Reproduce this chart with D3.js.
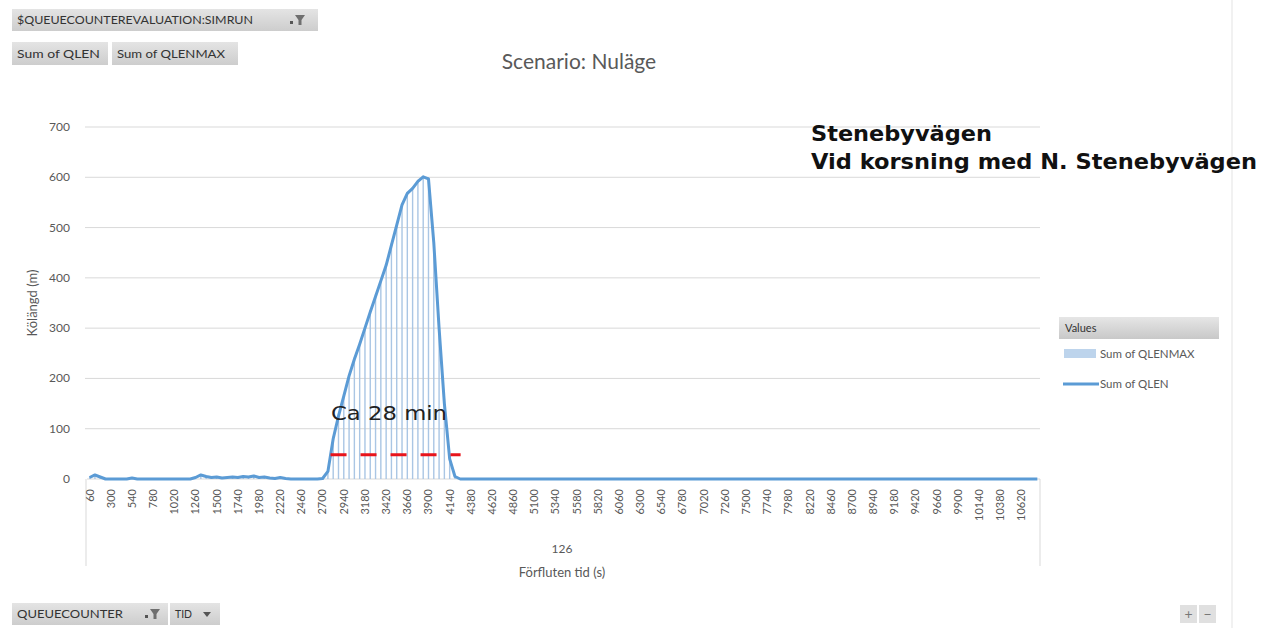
<!DOCTYPE html>
<html>
<head>
<meta charset="utf-8">
<script src="https://cdn.jsdelivr.net/npm/d3@7"></script>
<style>
  html, body { margin: 0; padding: 0; background: #ffffff; }
  svg { display: block; }
</style>
</head>
<body>
<svg id="chart" width="1271" height="628"></svg>
<script>
// Queue length per 60 s interval (QLEN) and per-interval maximum (QLENMAX), metres
const times = [
  60,120,180,240,300,360,420,480,540,600,660,720,780,840,900,960,1020,1080,1140,1200,
  1260,1320,1380,1440,1500,1560,1620,1680,1740,1800,1860,1920,1980,2040,2100,2160,2220,2280,2340,2400,
  2460,2520,2580,2640,2700,2760,2820,2880,2940,3000,3060,3120,3180,3240,3300,3360,3420,3480,3540,3600,
  3660,3720,3780,3840,3900,3960,4020,4080,4140,4200,4260,4320,4380,4440,4500,4560,4620,4680,4740,4800,
  4860,4920,4980,5040,5100,5160,5220,5280,5340,5400,5460,5520,5580,5640,5700,5760,5820,5880,5940,6000,
  6060,6120,6180,6240,6300,6360,6420,6480,6540,6600,6660,6720,6780,6840,6900,6960,7020,7080,7140,7200,
  7260,7320,7380,7440,7500,7560,7620,7680,7740,7800,7860,7920,7980,8040,8100,8160,8220,8280,8340,8400,
  8460,8520,8580,8640,8700,8760,8820,8880,8940,9000,9060,9120,9180,9240,9300,9360,9420,9480,9540,9600,
  9660,9720,9780,9840,9900,9960,10020,10080,10140,10200,10260,10320,10380,10440,10500,10560,10620,10680,10740,10800
];

const qlen = [
  3,8,4,0,0,0,0,0,2,0,0,0,0,0,0,0,0,0,0,0,
  3,8,5,3,4,2,3,4,3,5,4,6,3,4,2,1,3,1,0,0,
  0,0,0,0,1,15,80,125,165,205,238,268,300,332,363,394,425,465,505,545,
  568,578,592,601,597,470,300,150,40,5,0,0,0,0,0,0,0,0,0,0,
  0,0,0,0,0,0,0,0,0,0,0,0,0,0,0,0,0,0,0,0,
  0,0,0,0,0,0,0,0,0,0,0,0,0,0,0,0,0,0,0,0,
  0,0,0,0,0,0,0,0,0,0,0,0,0,0,0,0,0,0,0,0,
  0,0,0,0,0,0,0,0,0,0,0,0,0,0,0,0,0,0,0,0,
  0,0,0,0,0,0,0,0,0,0,0,0,0,0,0,0,0,0,0,0
];

const qlenMax = [
  5,10,6,0,0,0,0,0,3,0,0,0,0,0,0,0,0,0,0,0,
  5,10,7,5,6,3,5,6,5,7,6,8,5,6,3,2,5,2,0,0,
  0,0,0,0,4,20,85,130,170,209,242,272,304,336,367,398,429,469,509,549,
  571,581,595,603,600,480,310,160,50,8,0,0,0,0,0,0,0,0,0,0,
  0,0,0,0,0,0,0,0,0,0,0,0,0,0,0,0,0,0,0,0,
  0,0,0,0,0,0,0,0,0,0,0,0,0,0,0,0,0,0,0,0,
  0,0,0,0,0,0,0,0,0,0,0,0,0,0,0,0,0,0,0,0,
  0,0,0,0,0,0,0,0,0,0,0,0,0,0,0,0,0,0,0,0,
  0,0,0,0,0,0,0,0,0,0,0,0,0,0,0,0,0,0,0,0
];

const yTicks = [0, 100, 200, 300, 400, 500, 600, 700];
const tickEvery = 4;            // every 4th interval gets a label
const outerCategory = "126";    // queue counter id
const threshold = 48;           // dashed reference level for the queue duration
const dashStart = 2820, dashEnd = 4260;

const svg = d3.select("#chart");
const grey = "#595959";
const uiFont = "Lato, 'Open Sans', sans-serif";

const plot = { left: 87, right: 1040, top: 127, bottom: 479 };

const x = d3.scaleBand()
  .domain(times)
  .range([plot.left, plot.right])
  .paddingInner(0)
  .paddingOuter(0);

const y = d3.scaleLinear()
  .domain([0, 700])
  .range([plot.bottom, plot.top]);

// outer frame line on the right
svg.append("line")
  .attr("x1", 1232).attr("x2", 1232).attr("y1", 0).attr("y2", 628)
  .attr("stroke", "#e3e3e3").attr("stroke-width", 1);

// gradient for pivot field buttons
const defs = svg.append("defs");
const g1 = defs.append("linearGradient").attr("id", "btn").attr("x1", 0).attr("y1", 0).attr("x2", 0).attr("y2", 1);
g1.append("stop").attr("offset", "0%").attr("stop-color", "#e4e4e4");
g1.append("stop").attr("offset", "100%").attr("stop-color", "#cdcdcd");

function button(x0, y0, w, h, label, textW, fs) {
  svg.append("rect").attr("x", x0).attr("y", y0).attr("width", w).attr("height", h)
    .attr("fill", "url(#btn)");
  const t = svg.append("text").attr("x", x0 + 5).attr("y", y0 + h / 2 + 4)
    .attr("font-family", uiFont).attr("font-size", fs).attr("fill", "#333")
    .text(label);
  if (textW) t.attr("textLength", textW).attr("lengthAdjust", "spacingAndGlyphs");
}
function funnel(cx, cy) {
  svg.append("path")
    .attr("d", `M${cx - 5},${cy - 5} L${cx + 5},${cy - 5} L${cx + 1.5},${cy} L${cx + 1.5},${cy + 5} L${cx - 1.5},${cy + 5} L${cx - 1.5},${cy} Z`)
    .attr("fill", "#6f6f6f");
  svg.append("rect").attr("x", cx - 10).attr("y", cy + 1).attr("width", 3).attr("height", 3).attr("fill", "#555");
}

button(12, 9, 306, 22, "$QUEUECOUNTEREVALUATION:SIMRUN", 236, 11);
funnel(300, 20);
button(12, 42, 96, 23, "Sum of QLEN", 83, 11);
button(112, 42, 126, 23, "Sum of QLENMAX", 108, 11);
button(12, 603, 156, 22, "QUEUECOUNTER", 106, 11);
funnel(155, 614);
button(170, 603, 50, 22, "TID", 17, 11);
svg.append("path").attr("d", "M203,612 L211,612 L207,617 Z").attr("fill", "#555");

// zoom buttons bottom right
svg.append("rect").attr("x", 1180).attr("y", 605).attr("width", 17).attr("height", 18).attr("fill", "#e0e0e0");
svg.append("rect").attr("x", 1199).attr("y", 605).attr("width", 17).attr("height", 18).attr("fill", "#e0e0e0");
svg.append("text").attr("x", 1188.5).attr("y", 619).attr("text-anchor", "middle")
  .attr("font-family", uiFont).attr("font-size", 14).attr("fill", "#777").text("+");
svg.append("text").attr("x", 1207.5).attr("y", 619).attr("text-anchor", "middle")
  .attr("font-family", uiFont).attr("font-size", 14).attr("fill", "#777").text("−");

// title
svg.append("text").attr("x", 579).attr("y", 69).attr("text-anchor", "middle")
  .attr("font-family", uiFont).attr("font-size", 21).attr("fill", grey)
  .text("Scenario: Nuläge");

// horizontal gridlines
svg.append("g").selectAll("line").data(yTicks.filter(d => d > 0)).join("line")
  .attr("x1", plot.left - 2).attr("x2", plot.right)
  .attr("y1", d => y(d)).attr("y2", d => y(d))
  .attr("stroke", "#d9d9d9").attr("stroke-width", 1);

// y tick labels
svg.append("g").selectAll("text").data(yTicks).join("text")
  .attr("x", 70).attr("y", d => y(d) + 4)
  .attr("text-anchor", "end")
  .attr("font-family", uiFont).attr("font-size", 12).attr("fill", grey)
  .text(d => d);

// y axis title
svg.append("text")
  .attr("transform", "translate(37,303) rotate(-90)")
  .attr("text-anchor", "middle")
  .attr("font-family", uiFont).attr("font-size", 13).attr("fill", grey)
  .text("Kölängd (m)");

// category axis: baseline and outer-level separators
svg.append("line").attr("x1", plot.left).attr("x2", plot.right)
  .attr("y1", plot.bottom).attr("y2", plot.bottom).attr("stroke", "#d9d9d9");
[plot.left - 1, plot.right].forEach(xx => {
  svg.append("line").attr("x1", xx).attr("x2", xx).attr("y1", plot.bottom).attr("y2", 566)
    .attr("stroke", "#d9d9d9");
});

// time labels, rotated
svg.append("g").selectAll("text")
  .data(times.filter((d, i) => i % tickEvery === 0))
  .join("text")
  .attr("transform", d => `translate(${x(d) + x.bandwidth() / 2},489) rotate(-90)`)
  .attr("dy", "0.35em")
  .attr("text-anchor", "end")
  .attr("font-family", uiFont).attr("font-size", 11).attr("fill", grey)
  .text(d => d);

// outer category and axis title
svg.append("text").attr("x", 562).attr("y", 553).attr("text-anchor", "middle")
  .attr("font-family", uiFont).attr("font-size", 12).attr("fill", grey).text(outerCategory);
svg.append("text").attr("x", 562).attr("y", 577).attr("text-anchor", "middle")
  .attr("font-family", uiFont).attr("font-size", 13).attr("fill", grey).text("Förfluten tid (s)");

// QLENMAX columns (thin)
const barW = 1.4;
svg.append("g").selectAll("rect")
  .data(times.map((t, i) => ({ t, v: qlenMax[i] })).filter(d => d.v > 0))
  .join("rect")
  .attr("x", d => x(d.t) + x.bandwidth() / 2 - barW / 2)
  .attr("width", barW)
  .attr("y", d => y(d.v))
  .attr("height", d => y(0) - y(d.v))
  .attr("fill", "#aac6e4");

// QLEN line
const line = d3.line()
  .x((d, i) => x(times[i]) + x.bandwidth() / 2)
  .y(d => y(d));
svg.append("path").datum(qlen)
  .attr("d", line)
  .attr("fill", "none")
  .attr("stroke", "#5b9bd5")
  .attr("stroke-width", 3)
  .attr("stroke-linejoin", "round");

// dashed duration marker and its label
svg.append("line")
  .attr("x1", x(dashStart)).attr("x2", x(dashEnd) + 3)
  .attr("y1", y(threshold)).attr("y2", y(threshold))
  .attr("stroke", "#e8141b").attr("stroke-width", 3)
  .attr("stroke-dasharray", "16,14");
svg.append("text").attr("x", 331).attr("y", 420)
  .attr("font-family", "'DejaVu Sans', sans-serif").attr("font-size", 20).attr("fill", "#222")
  .attr("textLength", 116).attr("lengthAdjust", "spacingAndGlyphs")
  .text("Ca 28 min");

// location annotation
const loc = svg.append("text").attr("font-family", "'DejaVu Sans', sans-serif")
  .attr("font-weight", "bold").attr("font-size", 21).attr("fill", "#111");
loc.append("tspan").attr("x", 811).attr("y", 141).attr("textLength", 181)
  .attr("lengthAdjust", "spacingAndGlyphs").text("Stenebyvägen");
loc.append("tspan").attr("x", 811).attr("y", 169).attr("textLength", 446)
  .attr("lengthAdjust", "spacingAndGlyphs").text("Vid korsning med N. Stenebyvägen");

// legend
const g2 = defs.append("linearGradient").attr("id", "hdr").attr("x1", 0).attr("y1", 0).attr("x2", 0).attr("y2", 1);
g2.append("stop").attr("offset", "0%").attr("stop-color", "#e6e6e6");
g2.append("stop").attr("offset", "100%").attr("stop-color", "#c8c8c8");
svg.append("rect").attr("x", 1059).attr("y", 317).attr("width", 160).attr("height", 22).attr("fill", "url(#hdr)");
svg.append("text").attr("x", 1065).attr("y", 332)
  .attr("font-family", uiFont).attr("font-size", 11).attr("fill", "#333").text("Values");
svg.append("rect").attr("x", 1064).attr("y", 349).attr("width", 32).attr("height", 9).attr("fill", "#bdd4ec");
svg.append("text").attr("x", 1100).attr("y", 358)
  .attr("font-family", uiFont).attr("font-size", 11.5).attr("fill", grey).text("Sum of QLENMAX");
svg.append("line").attr("x1", 1063).attr("x2", 1099).attr("y1", 384).attr("y2", 384)
  .attr("stroke", "#5b9bd5").attr("stroke-width", 3);
svg.append("text").attr("x", 1100).attr("y", 388)
  .attr("font-family", uiFont).attr("font-size", 11.5).attr("fill", grey).text("Sum of QLEN");
</script>
</body>
</html>
